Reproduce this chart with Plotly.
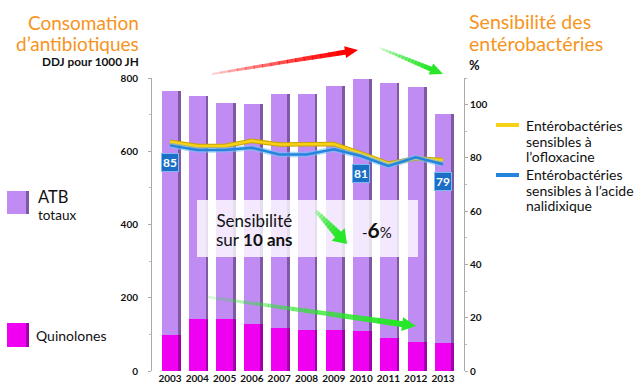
import plotly.graph_objects as go

# ---------------- data ----------------
years = [2003, 2004, 2005, 2006, 2007, 2008, 2009, 2010, 2011, 2012, 2013]
atb_total = [765, 751, 733, 730, 756, 756, 778, 797, 786, 775, 701]
quinolones = [98, 142, 142, 128, 117, 112, 112, 110, 90, 79, 76]
oflox = [86.1, 84.5, 84.5, 86.4, 85.0, 85.2, 85.2, 81.7, 77.9, 79.8, 79.2]
nalid = [84.7, 83.0, 83.0, 83.8, 81.3, 81.3, 83.2, 80.7, 77.0, 80.2, 77.6]
label_years = [2003, 2010, 2013]
label_texts = ["85", "81", "79"]
left_ticks = [0, 200, 400, 600, 800]
right_ticks = [0, 20, 40, 60, 80, 100]

FONT = "Lato"
ORANGE = "#f7941d"
PURPLE = "#c08cf3"
PURPLE_D = "#7e5aa2"
MAGENTA = "#f000f0"
MAGENTA_D = "#a000a8"
YELLOW = "#f7d117"
BLUE = "#2385dc"

# plot area in pixels
L, R, T, B = 152, 464, 78, 371
W, H = R - L, B - T


def px(x):
    return (x - L) / W


def py(y):
    return (B - y) / H


fig = go.Figure()

bw = 0.6
fig.add_bar(x=[y + 0.1 for y in years], y=atb_total, width=bw,
            marker=dict(color=PURPLE_D, line=dict(width=0)), showlegend=False, hoverinfo="skip")
fig.add_bar(x=years, y=atb_total, width=bw,
            marker=dict(color=PURPLE, line=dict(width=0)), showlegend=False)
fig.add_bar(x=[y + 0.1 for y in years], y=quinolones, width=bw,
            marker=dict(color=MAGENTA_D, line=dict(width=0)), showlegend=False, hoverinfo="skip")
fig.add_bar(x=years, y=quinolones, width=bw,
            marker=dict(color=MAGENTA, line=dict(width=0)), showlegend=False)

# lines on secondary axis
fig.add_scatter(x=years, y=oflox, yaxis="y2", mode="lines",
                line=dict(color="#c9a400", width=4.5), showlegend=False, hoverinfo="skip")
fig.add_scatter(x=years, y=oflox, yaxis="y2", mode="lines",
                line=dict(color=YELLOW, width=2.5), showlegend=False)
fig.add_scatter(x=years, y=nalid, yaxis="y2", mode="lines",
                line=dict(color="rgba(120,190,250,0.6)", width=5.5), showlegend=False, hoverinfo="skip")
fig.add_scatter(x=years, y=nalid, yaxis="y2", mode="lines",
                line=dict(color=BLUE, width=2.5), showlegend=False)

annotations = []
shapes = []

# data labels
for yr, txt in zip(label_years, label_texts):
    val = nalid[years.index(yr)]
    annotations.append(dict(x=yr, y=val, xref="x", yref="y2", text="<b>" + txt + "</b>",
                            showarrow=False, yshift=-17, bgcolor="#1c6fc6",
                            bordercolor="#7fb8ee", borderwidth=1, borderpad=1,
                            font=dict(family=FONT, size=12, color="white")))


def grad_arrow(x0, y0, x1, y1, rgb, wend, head_len, head_w, n=16, a0=0.05, w0=0.4):
    dx, dy = x1 - x0, y1 - y0
    d = (dx * dx + dy * dy) ** 0.5
    ux, uy = dx / d, dy / d
    bx, by = x1 - ux * head_len, y1 - uy * head_len
    for i in range(n):
        t0, t1 = i / n, (i + 1) / n
        a = a0 + (1 - a0) * (t1 ** 0.7)
        w = wend * (w0 + (1 - w0) * t1)
        shapes.append(dict(type="line", xref="paper", yref="paper",
                           x0=px(x0 + (bx - x0) * t0), y0=py(y0 + (by - y0) * t0),
                           x1=px(x0 + (bx - x0) * t1 + ux), y1=py(y0 + (by - y0) * t1 + uy),
                           line=dict(color="rgba(%d,%d,%d,%.3f)" % (rgb + (a,)), width=w)))
    nx, ny = -uy, ux
    p1 = (bx + nx * head_w, by + ny * head_w)
    p2 = (bx - nx * head_w, by - ny * head_w)
    path = "M %f,%f L %f,%f L %f,%f Z" % (px(x1), py(y1), px(p1[0]), py(p1[1]), px(p2[0]), py(p2[1]))
    shapes.append(dict(type="path", xref="paper", yref="paper", path=path,
                       fillcolor="rgb(%d,%d,%d)" % rgb, line=dict(width=0)))


# white info box
shapes.append(dict(type="rect", xref="paper", yref="paper", x0=px(197), x1=px(418), y0=py(257), y1=py(200),
                   fillcolor="rgba(255,255,255,0.8)", line=dict(width=0), layer="above"))

grad_arrow(212, 74, 358, 50, (255, 0, 0), 5, 13, 6)
grad_arrow(380, 48, 443, 74, (40, 230, 40), 5, 13, 6)
grad_arrow(207, 297, 416, 326, (40, 230, 40), 6, 14, 7)
grad_arrow(316, 211, 347, 244, (40, 230, 40), 8, 13, 9, n=10, a0=0.15)

annotations += [
    dict(x=px(254), y=py(230), align="center",
         text="<span style='font-size:17px'>Sensibilité</span><br>"
              "<span style='font-size:17px'>sur <b>10 ans</b></span>",
         font=dict(family=FONT, size=14.5, color="#111")),
    dict(x=px(377), y=py(229), text="-<b><span style='font-size:21px'>6</span></b>%",
         font=dict(family=FONT, size=15, color="#111")),
]

# titles
annotations += [
    dict(x=px(141), y=py(33), xanchor="right", align="right",
         text="<span style='font-size:19px'>Consomation</span><br>"
              "<span style='font-size:19px'>d’antibiotiques</span>",
         font=dict(family=FONT, size=16.5, color=ORANGE)),
    dict(x=px(141), y=py(61), xanchor="right", text="<b>DDJ pour 1000 JH</b>",
         font=dict(family=FONT, size=11.8, color="#111")),
    dict(x=px(467), y=py(33), xanchor="left", align="left",
         text="<span style='font-size:19.6px'>Sensibilité des</span><br>"
              "<span style='font-size:19.6px'>entérobactéries</span>",
         font=dict(family=FONT, size=16.8, color=ORANGE)),
    dict(x=px(467), y=py(65), xanchor="left", text="<b>%</b>",
         font=dict(family=FONT, size=13, color="#111")),
]

# right legend
shapes.append(dict(type="line", xref="paper", yref="paper", x0=px(496), x1=px(519), y0=py(125), y1=py(125),
                   line=dict(color=YELLOW, width=4)))
shapes.append(dict(type="line", xref="paper", yref="paper", x0=px(496), x1=px(519), y0=py(175), y1=py(175),
                   line=dict(color=BLUE, width=4)))
annotations.append(dict(x=px(524), y=py(140.5), xanchor="left", align="left",
                        text="<br>".join("<span style='font-size:14px'>%s</span>" % t
                                         for t in ["Entérobactéries", "sensibles à", "l’ofloxacine"]),
                        font=dict(family=FONT, size=12, color="#111")))
annotations.append(dict(x=px(524), y=py(189.5), xanchor="left", align="left",
                        text="<br>".join("<span style='font-size:14px'>%s</span>" % t
                                         for t in ["Entérobactéries", "sensibles à l’acide", "nalidixique"]),
                        font=dict(family=FONT, size=12, color="#111")))

# left legend
shapes += [
    dict(type="rect", xref="paper", yref="paper", x0=px(8), x1=px(29), y0=py(214), y1=py(191),
         fillcolor=PURPLE_D, line=dict(width=0)),
    dict(type="rect", xref="paper", yref="paper", x0=px(7), x1=px(26), y0=py(214), y1=py(191),
         fillcolor=PURPLE, line=dict(width=0)),
    dict(type="rect", xref="paper", yref="paper", x0=px(8), x1=px(29), y0=py(347), y1=py(323),
         fillcolor=MAGENTA_D, line=dict(width=0)),
    dict(type="rect", xref="paper", yref="paper", x0=px(7), x1=px(26), y0=py(347), y1=py(323),
         fillcolor=MAGENTA, line=dict(width=0)),
]
annotations += [
    dict(x=px(36), y=py(205), xanchor="left", align="left",
         text="<span style='font-size:16.5px'>ATB</span><br><span style='font-size:13.5px'>totaux</span>",
         font=dict(family=FONT, size=12.8, color="#111")),
    dict(x=px(34), y=py(335), xanchor="left", text="Quinolones", font=dict(family=FONT, size=14, color="#111")),
]

for a in annotations:
    a.setdefault("xref", "paper")
    a.setdefault("yref", "paper")
    a.setdefault("showarrow", False)
    a.setdefault("xanchor", "center")
    a.setdefault("yanchor", "middle")

fig.update_layout(
    width=636, height=385,
    template="none",
    paper_bgcolor="white", plot_bgcolor="white",
    margin=dict(l=L, r=636 - R, t=T, b=385 - B, pad=0),
    barmode="overlay", bargap=0,
    showlegend=False,
    font=dict(family=FONT, color="#111"),
    xaxis=dict(range=[2002.34, 2013.77], tickvals=years, ticktext=[str(y) for y in years],
               showgrid=False, zeroline=False, showline=False, ticks="", automargin=False,
               tickfont=dict(family=FONT, size=10, color="#111", weight="bold")),
    yaxis=dict(range=[0, 800], tickvals=left_ticks, showgrid=False, zeroline=False,
               showline=True, linecolor="#aaa", linewidth=1, ticks="outside", ticklen=3,
               tickcolor="#aaa", minor=dict(dtick=100, ticks="outside", ticklen=2, tickcolor="#bbb"),
               ticklabelstandoff=8, automargin=False,
               tickfont=dict(family=FONT, size=10, color="#111", weight="bold")),
    yaxis2=dict(range=[0, 110], tickvals=right_ticks, overlaying="y", side="right", anchor="x",
                showgrid=False, zeroline=False, showline=True, linecolor="#aaa", linewidth=1,
                ticks="outside", ticklen=3, tickcolor="#aaa",
                minor=dict(dtick=10, ticks="outside", ticklen=2, tickcolor="#bbb"),
                automargin=False,
                tickfont=dict(family=FONT, size=10, color="#111", weight="bold")),
    annotations=annotations,
    shapes=shapes,
)

fig.write_html("out.html")
